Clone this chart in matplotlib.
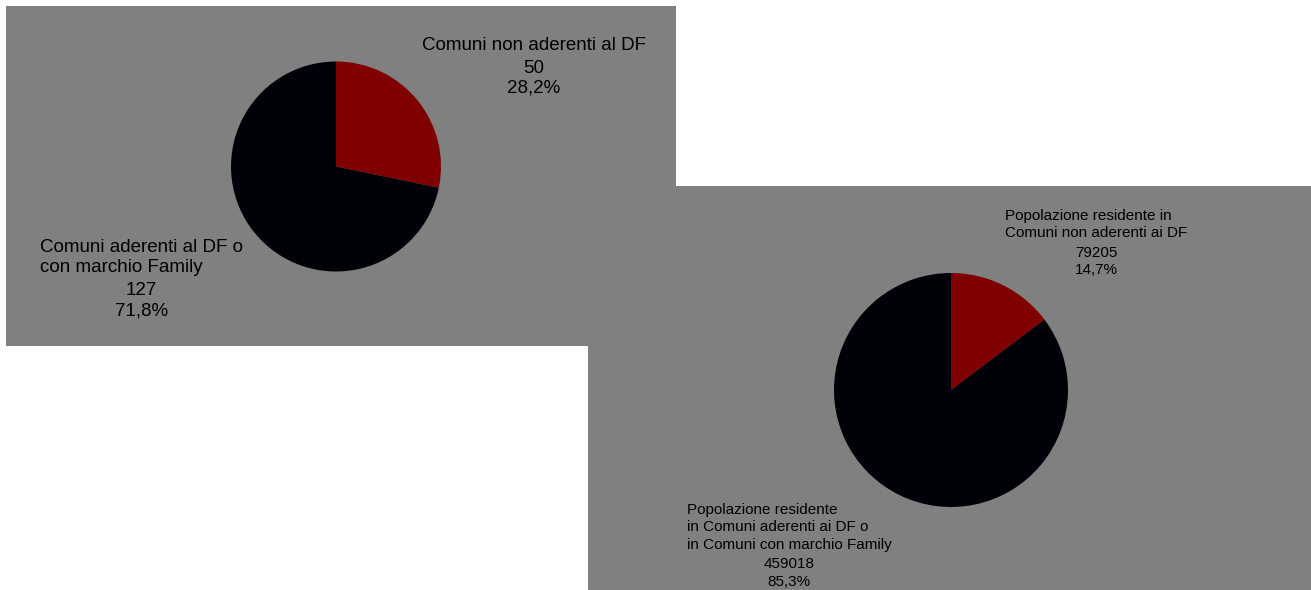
import matplotlib
matplotlib.use("Agg")
import matplotlib.pyplot as plt

plt.rcParams['font.family'] = ['Liberation Sans', 'DejaVu Sans']

W, H = 1311, 590

# data
names_1 = ["Comuni non aderenti al DF", "Comuni aderenti al DF o\ncon marchio Family"]
values_1 = [50, 127]
names_2 = ["Popolazione residente in\nComuni non aderenti ai DF",
           "Popolazione residente\nin Comuni aderenti ai DF o\nin Comuni con marchio Family"]
values_2 = [79205, 459018]
slice_colors = ["#800000", "#000008"]
panel_color = "#808080"


def px_rect(x0, y0, w, h):
    return [x0 / W, 1 - (y0 + h) / H, w / W, h / H]


def panel(x0, y0, w, h):
    ax = fig.add_axes(px_rect(x0, y0, w, h), zorder=0)
    ax.set_facecolor(panel_color)
    ax.set_xticks([])
    ax.set_yticks([])
    for s in ax.spines.values():
        s.set_visible(False)
    return ax


def pie(cx, cy, r, values):
    side = 2.5 * r
    ax = fig.add_axes(px_rect(cx - side / 2, cy - side / 2, side, side), zorder=2)
    ax.pie(values, colors=slice_colors, startangle=90, counterclock=False,
           wedgeprops=dict(linewidth=0))
    ax.set_xlim(-1.25, 1.25)
    ax.set_ylim(-1.25, 1.25)
    ax.patch.set_visible(False)
    return ax


def label(x, y, name, value, total, size, ls):
    pct = f"{100 * value / total:.1f}".replace(".", ",") + "%"
    t = fig.text(x / W, 1 - y / H, name, ha="left", va="top", fontsize=size,
                 linespacing=ls, zorder=3)
    r = fig.canvas.get_renderer()
    bb = t.get_window_extent(renderer=r)
    xc = (bb.x0 + bb.x1) / 2 / fig.bbox.width
    gap = (ls - 1.0) * size * 100 / 72 * 1.15
    fig.text(xc, (bb.y0 - gap) / fig.bbox.height, f"{value}\n{pct}", ha="center", va="top",
             fontsize=size, linespacing=ls, zorder=3)


fig = plt.figure(figsize=(W / 100, H / 100), dpi=100)
fig.patch.set_facecolor("white")

panel(588, 186, 723, 404)
panel(6, 6, 670, 340)

pie(336, 166.5, 105, values_1)
pie(951, 390, 117, values_2)

label(422, 37, names_1[0], values_1[0], sum(values_1), 13.5, 1.26)
label(40, 239, names_1[1], values_1[1], sum(values_1), 13.5, 1.26)
label(1005, 209, names_2[0], values_2[0], sum(values_2), 11, 1.31)
label(687, 503, names_2[1], values_2[1], sum(values_2), 11, 1.31)

fig.savefig("out.png", dpi=100)
